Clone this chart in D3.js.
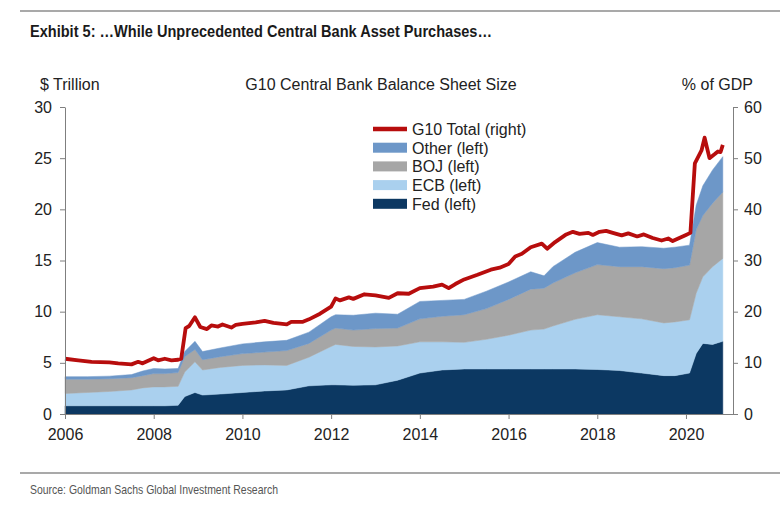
<!DOCTYPE html>
<meta charset="utf-8">
<html>
<head>
<title>G10 Central Bank Balance Sheet Size</title>
<script src="https://d3js.org/d3.v7.min.js"></script>
<style>
  body { margin: 0; background: #fff; }
  text { font-family: "Liberation Sans", Arial, sans-serif; fill: #222; }
</style>
</head>
<body>
<div id="chart"></div>
<script>
// stacked layers, $ trillion
var dates = [2006.0, 2006.5, 2007.0, 2007.5, 2007.75, 2008.0, 2008.25, 2008.55, 2008.7, 2008.93,
             2009.1, 2009.5, 2010.0, 2010.5, 2011.0, 2011.5, 2012.0, 2012.1, 2012.5, 2013.0,
             2013.5, 2014.0, 2014.5, 2015.0, 2015.5, 2016.0, 2016.5, 2016.8, 2017.0, 2017.5,
             2018.0, 2018.5, 2019.0, 2019.5, 2019.75, 2020.08, 2020.23, 2020.38, 2020.6, 2020.83];
var fed   = [0.80, 0.80, 0.80, 0.80, 0.80, 0.80, 0.80, 0.85, 1.70, 2.10,
             1.85, 1.95, 2.10, 2.25, 2.35, 2.75, 2.85, 2.85, 2.80, 2.85,
             3.30, 4.00, 4.30, 4.40, 4.40, 4.40, 4.40, 4.40, 4.40, 4.40,
             4.35, 4.25, 4.00, 3.75, 3.75, 4.00, 5.90, 6.90, 6.80, 7.10];
var ecb   = [1.20, 1.30, 1.40, 1.55, 1.75, 1.85, 1.85, 1.85, 2.40, 3.00,
             2.45, 2.60, 2.65, 2.55, 2.40, 2.80, 3.75, 3.95, 3.80, 3.70,
             3.35, 3.05, 2.75, 2.60, 2.90, 3.30, 3.80, 3.90, 4.20, 4.85,
             5.35, 5.25, 5.30, 5.15, 5.25, 5.20, 5.90, 6.50, 7.60, 8.10];
var boj   = [1.40, 1.30, 1.25, 1.20, 1.20, 1.30, 1.30, 1.35, 1.50, 1.20,
             1.00, 1.05, 1.15, 1.25, 1.45, 1.35, 1.60, 1.60, 1.60, 1.80,
             1.75, 2.25, 2.50, 2.70, 3.00, 3.50, 4.00, 4.00, 4.20, 4.55,
             4.90, 4.90, 5.10, 5.30, 5.30, 5.35, 6.20, 6.00, 6.20, 6.50];
var other = [0.25, 0.25, 0.25, 0.30, 0.45, 0.50, 0.45, 0.40, 0.50, 0.80,
             0.80, 0.85, 0.95, 1.00, 1.00, 1.10, 1.30, 1.30, 1.45, 1.50,
             1.35, 1.70, 1.55, 1.50, 1.70, 1.70, 1.70, 1.20, 1.60, 2.00,
             2.15, 1.90, 1.95, 2.00, 2.00, 1.95, 2.40, 2.90, 3.25, 3.45];

// G10 total, % of GDP (right axis)
var g10Dates = [2006.0, 2006.3, 2006.6, 2007.0, 2007.2, 2007.5, 2007.65, 2007.75, 2007.9, 2008.0,
                2008.1, 2008.25, 2008.4, 2008.55, 2008.62, 2008.72, 2008.8, 2008.93, 2009.05, 2009.2,
                2009.3, 2009.45, 2009.55, 2009.75, 2009.85, 2010.0, 2010.3, 2010.5, 2010.7, 2011.0,
                2011.1, 2011.35, 2011.5, 2011.75, 2012.0, 2012.1, 2012.2, 2012.4, 2012.5, 2012.75,
                2013.0, 2013.3, 2013.5, 2013.75, 2014.0, 2014.3, 2014.5, 2014.65, 2014.8, 2015.0,
                2015.3, 2015.6, 2015.8, 2016.0, 2016.15, 2016.3, 2016.5, 2016.75, 2016.87, 2017.05,
                2017.3, 2017.45, 2017.6, 2017.8, 2017.9, 2018.05, 2018.2, 2018.35, 2018.55, 2018.7,
                2018.9, 2019.05, 2019.25, 2019.45, 2019.6, 2019.7, 2019.85, 2020.0, 2020.1, 2020.2,
                2020.35, 2020.42, 2020.53, 2020.65, 2020.72, 2020.78, 2020.83];
var g10Total = [10.8, 10.5, 10.2, 10.1, 9.9, 9.7, 10.2, 9.9, 10.5, 10.9,
                10.5, 10.8, 10.5, 10.6, 10.8, 16.8, 17.2, 18.9, 17.0, 16.6,
                17.3, 17.1, 17.5, 16.9, 17.4, 17.6, 17.9, 18.2, 17.8, 17.5,
                18.0, 18.0, 18.5, 19.6, 21.0, 22.6, 22.2, 22.8, 22.5, 23.4,
                23.2, 22.7, 23.6, 23.5, 24.6, 24.9, 25.3, 24.6, 25.4, 26.3,
                27.2, 28.2, 28.6, 29.3, 30.8, 31.3, 32.6, 33.3, 32.3, 33.6,
                35.1, 35.6, 35.2, 35.4, 35.0, 35.6, 35.8, 35.4, 34.9, 35.3,
                34.7, 35.1, 34.4, 33.9, 34.3, 33.8, 34.4, 35.0, 35.4, 49.0,
                51.5, 54.0, 50.0, 50.8, 51.3, 51.2, 52.6];

var keys = ["fed", "ecb", "boj", "other"];
var colors = { fed: "#0c3862", ecb: "#aad0ee", boj: "#a6a6a6", other: "#6d97c8" };
var lineColor = "#b70d0d";
var legendItems = [
  { key: "g10", label: "G10 Total (right)" },
  { key: "other", label: "Other (left)" },
  { key: "boj", label: "BOJ (left)" },
  { key: "ecb", label: "ECB (left)" },
  { key: "fed", label: "Fed (left)" }
];
var xTicks = [2006, 2008, 2010, 2012, 2014, 2016, 2018, 2020];
var leftTicks = [0, 5, 10, 15, 20, 25, 30];
var rightTicks = [0, 10, 20, 30, 40, 50, 60];

var W = 780, H = 506;
var plot = { left: 65, right: 733, top: 107, bottom: 414 };

var svg = d3.select("#chart").append("svg")
  .attr("width", W).attr("height", H);

var x = d3.scaleLinear().domain([2006, 2021.06]).range([plot.left, plot.right]);
var yL = d3.scaleLinear().domain([0, 30]).range([plot.bottom, plot.top]);
var yR = d3.scaleLinear().domain([0, 60]).range([plot.bottom, plot.top]);

// header / footer (condensed look done with textLength, no narrow font installed)
svg.append("line").attr("x1", 20).attr("x2", W).attr("y1", 11).attr("y2", 11)
  .attr("stroke", "#8c8c8c").attr("stroke-width", 1.5);
svg.append("text").attr("x", 30).attr("y", 37)
  .attr("textLength", 462).attr("lengthAdjust", "spacingAndGlyphs")
  .style("font-size", "16.5px").style("font-weight", "bold").style("fill", "#1a1a1a")
  .text("Exhibit 5: \u2026While Unprecedented Central Bank Asset Purchases\u2026");

svg.append("line").attr("x1", 20).attr("x2", W).attr("y1", 473).attr("y2", 473)
  .attr("stroke", "#8c8c8c").attr("stroke-width", 1.5);
svg.append("text").attr("x", 30).attr("y", 494)
  .attr("textLength", 248).attr("lengthAdjust", "spacingAndGlyphs")
  .style("font-size", "13px").style("fill", "#555")
  .text("Source: Goldman Sachs Global Investment Research");

svg.append("text").attr("x", 40).attr("y", 90).style("font-size", "16px").text("$ Trillion");
svg.append("text").attr("x", 381).attr("y", 90).attr("text-anchor", "middle")
  .style("font-size", "16px").text("G10 Central Bank Balance Sheet Size");
svg.append("text").attr("x", 753).attr("y", 90).attr("text-anchor", "end")
  .style("font-size", "16px").text("% of GDP");

// stacked areas
var rows = dates.map(function(d, i) {
  return { date: d, fed: fed[i], ecb: ecb[i], boj: boj[i], other: other[i] };
});
var series = d3.stack().keys(keys)(rows);
var area = d3.area()
  .x(function(d) { return x(d.data.date); })
  .y0(function(d) { return yL(d[0]); })
  .y1(function(d) { return yL(d[1]); });

svg.append("g").selectAll("path")
  .data(series)
  .enter().append("path")
    .attr("d", area)
    .attr("fill", function(d) { return colors[d.key]; })
    .attr("stroke", function(d) { return colors[d.key]; })
    .attr("stroke-width", 0.5);

// G10 total line
var line = d3.line()
  .x(function(d, i) { return x(g10Dates[i]); })
  .y(function(d) { return yR(d); });
svg.append("path")
  .datum(g10Total)
  .attr("d", line)
  .attr("fill", "none")
  .attr("stroke", lineColor)
  .attr("stroke-width", 3.8)
  .attr("stroke-linejoin", "round");

// axes
function styleAxis(g) {
  g.select(".domain").attr("stroke", "#7f7f7f");
  g.selectAll(".tick line").attr("stroke", "#7f7f7f");
  g.selectAll(".tick text").style("font-size", "16px").style("fill", "#222")
    .style("font-family", "'Liberation Sans', Arial, sans-serif");
}
svg.append("g")
  .attr("transform", "translate(0," + plot.bottom + ")")
  .call(d3.axisBottom(x).tickValues(xTicks).tickFormat(d3.format("d")).tickSize(5).tickSizeOuter(0).tickPadding(10))
  .call(styleAxis);
svg.append("g")
  .attr("transform", "translate(" + plot.left + ",0)")
  .call(d3.axisLeft(yL).tickValues(leftTicks).tickSize(5).tickSizeOuter(0).tickPadding(8))
  .call(styleAxis);
svg.append("g")
  .attr("transform", "translate(" + plot.right + ",0)")
  .call(d3.axisRight(yR).tickValues(rightTicks).tickSize(5).tickSizeOuter(0).tickPadding(6))
  .call(styleAxis);
svg.selectAll(".tick text").attr("font-family", null);

// legend
var lg = svg.append("g").attr("transform", "translate(373,129)");
var item = lg.selectAll("g").data(legendItems).enter().append("g")
  .attr("transform", function(d, i) { return "translate(0," + (i * 18.7) + ")"; });
item.each(function(d) {
  var g = d3.select(this);
  if (d.key === "g10") {
    g.append("line").attr("x1", 0).attr("x2", 34).attr("y1", 0).attr("y2", 0)
      .attr("stroke", lineColor).attr("stroke-width", 4.5);
  } else {
    g.append("rect").attr("x", 0).attr("y", -5).attr("width", 34).attr("height", 10)
      .attr("fill", colors[d.key]);
  }
});
item.append("text").attr("x", 39).attr("y", 6).style("font-size", "16px")
  .text(function(d) { return d.label; });
</script>
</body>
</html>
